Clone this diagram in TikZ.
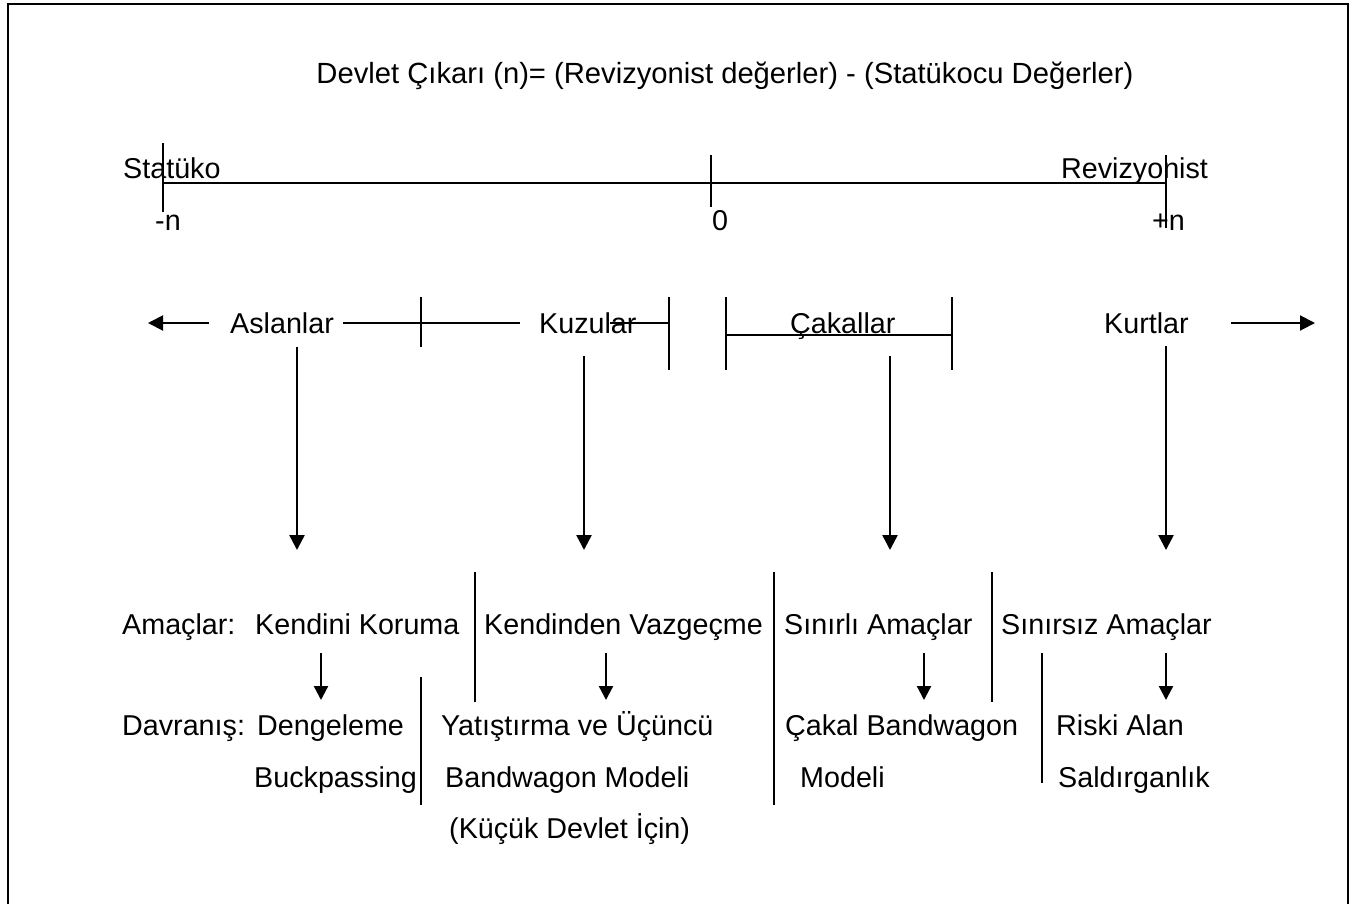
\documentclass[tikz,border=0pt]{standalone}
\usepackage{fontspec}
\setmainfont{Liberation Sans}
\usetikzlibrary{arrows.meta}
\begin{document}
\begin{tikzpicture}[x=1pt,y=-1pt,
  lbl/.style={anchor=base west,inner sep=0pt,font=\fontsize{28.7}{34}\selectfont},
  axisline/.style={line width=2pt},
  sep/.style={line width=1.6pt},
  arr/.style={line width=2.5pt,-{Triangle[length=15pt,width=15pt]}},
  sarr/.style={line width=2.3pt,-{Triangle[length=14pt,width=14pt]}}]
\useasboundingbox (0,0) rectangle (1359,903);
% frame
\draw[line width=2.4pt] (8,915) -- (8,4) -- (1348,4) -- (1348,915);
% title
\node[lbl,anchor=base,font=\fontsize{29.2}{34}\selectfont] (title) at (725,83) {Devlet Çıkarı (n)= (Revizyonist değerler) - (Statükocu Değerler)};
% axis
\coordinate (aL) at (163,183);
\coordinate (aM) at (711,183);
\coordinate (aR) at (1166,183);
\draw[axisline] (aL) -- (aR);
\draw[sep] (163,143) -- (163,212);
\draw[sep] (711,155) -- (711,207);
\draw[sep] (1166,155) -- (1166,228);
\node[lbl] (statu) at (123,178) {Statüko};
\node[lbl] (revi) at (1061,178) {Revizyonist};
\node[lbl] (mn) at (155,230) {-n};
\node[lbl] (zero) at (712,230) {0};
\node[lbl] (pn) at (1152,230) {+n};
% categories row
\node[lbl] (aslan) at (230,333) {Aslanlar};
\node[lbl] (kuzu) at (539,333) {Kuzular};
\node[lbl] (cakal) at (790,333) {Çakallar};
\node[lbl] (kurt) at (1104,333) {Kurtlar};
\coordinate (la1) at (209,323); \coordinate (la2) at (148,323);
\draw[axisline,-{Triangle[length=15pt,width=15pt]}] (la1) -- (la2);
\draw[axisline] (343,323) -- (520,323);
\draw[sep] (421,297) -- (421,347);
\draw[axisline] (610,323) -- (669,323);
\draw[sep] (669,297) -- (669,370);
\draw[sep] (726,297) -- (726,370);
\draw[axisline] (726,335) -- (952,335);
\draw[sep] (952,297) -- (952,370);
\coordinate (ra1) at (1231,323); \coordinate (ra2) at (1315,323);
\draw[axisline,-{Triangle[length=15pt,width=15pt]}] (ra1) -- (ra2);
% long down arrows
\coordinate (d1s) at (297,347); \coordinate (d1e) at (297,550);
\coordinate (d2s) at (584,356); \coordinate (d2e) at (584,550);
\coordinate (d3s) at (890,356); \coordinate (d3e) at (890,550);
\coordinate (d4s) at (1166,346); \coordinate (d4e) at (1166,550);
\draw[arr] (d1s) -- (d1e);
\draw[arr] (d2s) -- (d2e);
\draw[arr] (d3s) -- (d3e);
\draw[arr] (d4s) -- (d4e);
% goals row
\node[lbl] (amac) at (122,634) {Amaçlar:};
\node[lbl] (koru) at (255,634) {Kendini Koruma};
\node[lbl] (vazg) at (484,634) {Kendinden Vazgeçme};
\node[lbl] (sinirli) at (784,634) {Sınırlı Amaçlar};
\node[lbl] (sinirsiz) at (1001,634) {Sınırsız Amaçlar};
% behaviour rows
\node[lbl] (davr) at (122,735) {Davranış:};
\node[lbl] (denge) at (257,735) {Dengeleme};
\node[lbl] (buck) at (254,787) {Buckpassing};
\node[lbl] (yatis) at (441,735) {Yatıştırma ve Üçüncü};
\node[lbl] (bandm) at (445,787) {Bandwagon Modeli};
\node[lbl] (kucuk) at (449,838) {(Küçük Devlet İçin)};
\node[lbl] (cband) at (785,735) {Çakal Bandwagon};
\node[lbl] (cmod) at (800,787) {Modeli};
\node[lbl] (riski) at (1056,735) {Riski Alan};
\node[lbl] (saldir) at (1058,787) {Saldırganlık};
% separators
\draw[sep] (475,572) -- (475,702);
\draw[sep] (421,677) -- (421,805);
\draw[sep] (774,572) -- (774,805);
\draw[sep] (992,572) -- (992,702);
\draw[sep] (1042,653) -- (1042,783);
% short arrows
\coordinate (s1s) at (321,653); \coordinate (s1e) at (321,700);
\coordinate (s2s) at (606,653); \coordinate (s2e) at (606,700);
\coordinate (s3s) at (924,653); \coordinate (s3e) at (924,700);
\coordinate (s4s) at (1166,653); \coordinate (s4e) at (1166,700);
\draw[sarr] (s1s) -- (s1e);
\draw[sarr] (s2s) -- (s2e);
\draw[sarr] (s3s) -- (s3e);
\draw[sarr] (s4s) -- (s4e);
\end{tikzpicture}
\end{document}
